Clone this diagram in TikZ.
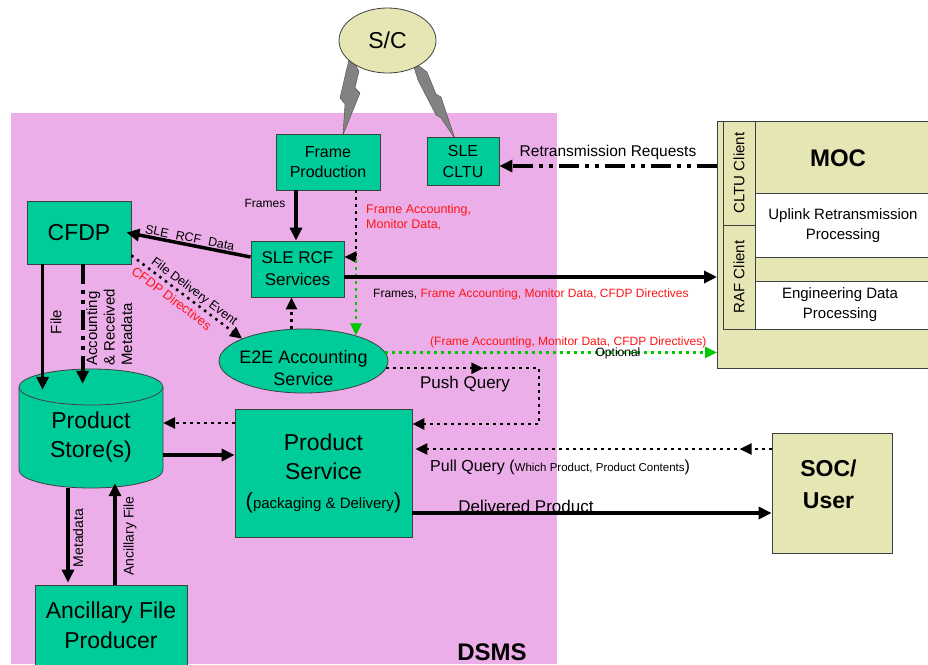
\documentclass[tikz,border=0pt]{standalone}
\usepackage{fontspec}
\setmainfont{Liberation Sans}
\usetikzlibrary{arrows.meta,shapes.geometric,decorations.markings,calc}
\definecolor{pinkbg}{RGB}{236,174,232}
\definecolor{tealbox}{RGB}{0,204,153}
\definecolor{khakibox}{RGB}{230,230,180}
\definecolor{grnline}{RGB}{0,200,0}
\definecolor{boltgray}{RGB}{130,130,130}
\definecolor{redtxt}{RGB}{255,20,20}
\newcommand{\fsz}[2]{\fontsize{#1}{#2}\selectfont}
\begin{document}
\begin{tikzpicture}[x=1pt,y=-1pt,
  tbox/.style={draw=black!75, line width=0.8pt, fill=tealbox, inner sep=0pt, align=center},
  kbox/.style={draw=black!75, line width=0.8pt, fill=khakibox, inner sep=0pt, align=center},
  cell/.style={draw=black!75, line width=0.8pt, inner sep=0pt, outer sep=0pt},
  arr/.style={line width=3.5pt, -{Triangle[length=13pt,width=12pt]}},
  dotarr/.style={line width=2.5pt, dash pattern=on 2.5pt off 4.5pt, -{Triangle[length=12pt,width=11pt]}},
  garr/.style={dotarr, draw=grnline},
  dasharr/.style={line width=4pt, dash pattern=on 20pt off 6pt on 4pt off 6pt on 4pt off 6pt, -{Triangle[length=13pt,width=12pt]}},
  midtip/.style={postaction={decorate}, decoration={markings, mark=at position #1 with {\arrow{Triangle[length=12pt,width=11pt]}}}},
  lbl/.style={inner sep=0pt, text=black},
  redlbl/.style={inner sep=0pt, text=redtxt},
  boltshape/.style={fill=boltgray, draw=black!70, line width=0.4pt},
]
\useasboundingbox (0,0) rectangle (928,664);
\clip (0,0) rectangle (928,664);
% DSMS area
\fill[pinkbg] (11,113) rectangle (557,664);
\node[lbl, font=\fsz{24}{28}\bfseries] (dsms) at (492,652) {DSMS};

% lightning bolts
\path[boltshape] (350,56) -- (359,71) -- (355,88) -- (360,93) -- (343,135) -- (345,104) -- (340,98) -- (346,72) -- cycle;
\path[boltshape] (412,61) -- (427,72) -- (436,94) -- (441,97) -- (455,139) -- (441,118) -- (436,115) -- (418,80) -- cycle;

% nodes
\node[ellipse, kbox, minimum width=97, minimum height=65, font=\fsz{23}{27}] (sc) at (387.5,40.5) {S/C};
\node[tbox, minimum width=104, minimum height=56, font=\fsz{16}{20}] (frame) at (328,162) {Frame\\Production};
\node[tbox, minimum width=72, minimum height=48, font=\fsz{16}{21}] (cltu) at (463,161) {SLE\\CLTU};
\node[tbox, minimum width=104, minimum height=63, font=\fsz{23}{27}] (cfdp) at (79,232.5) {CFDP};
\node[tbox, minimum width=93, minimum height=56, font=\fsz{17}{22}] (rcf) at (297.5,269) {SLE RCF\\Services};
\node[ellipse, tbox, minimum width=169, minimum height=64] (e2e) at (303.5,361) {};
\node[lbl, font=\fsz{18}{22}, align=center] (e2etext) at (303.5,368) {E2E Accounting\\Service};

% product store cylinder
\path[fill=tealbox, draw=black!75, line width=0.8pt] (19,387) -- (19,470) arc[start angle=180, end angle=0, x radius=72, y radius=18] -- (163,387);
\path[fill=tealbox, draw=black!75, line width=0.8pt] (91,387) ellipse[x radius=72, y radius=18];
\node[lbl, minimum width=144, minimum height=101, font=\fsz{23}{29}, align=center] (store) at (91,437.5) {Product\\Store(s)};

\node[tbox, minimum width=177, minimum height=128, font=\fsz{23}{29}] (ps) at (323.5,473) {Product\\Service\\{\fsz{22}{30}(}{\fsz{15}{30}packaging \& Delivery}{\fsz{22}{30})}};
\node[tbox, minimum width=152, minimum height=80, font=\fsz{23}{30}] (anc) at (111,625) {Ancillary File\\Producer};

% SOC
\node[kbox, minimum width=120, minimum height=120] (soc) at (832,493) {};
\node[lbl, font=\fsz{23}{32}\bfseries, align=center] (soctext) at (828.5,484) {SOC/\\User};

% MOC
\node[kbox, anchor=north west, minimum width=223, minimum height=247] (moc) at (717,121) {};
\node[cell, fill=khakibox, rotate=90, minimum width=104, minimum height=32, font=\fsz{15}{18}] (cltucl) at (739,173) {CLTU Client};
\node[cell, fill=khakibox, rotate=90, minimum width=104, minimum height=32, font=\fsz{15}{18}] (rafcl) at (739,277) {RAF Client};
\node[cell, fill=khakibox, anchor=north west, minimum width=185, minimum height=72] (mocc) at (755,121) {};
\node[cell, fill=white, anchor=north west, minimum width=185, minimum height=64] (uplc) at (755,193) {};
\node[cell, fill=khakibox, anchor=north west, minimum width=185, minimum height=24] (midc) at (755,257) {};
\node[cell, fill=white, anchor=north west, minimum width=185, minimum height=48] (engc) at (755,281) {};
\node[lbl, font=\fsz{24}{28}\bfseries] (moctext) at (838,158) {MOC};
\node[lbl, font=\fsz{15}{20}, align=center] (upltext) at (843,226) {Uplink Retransmission\\Processing};
\node[lbl, font=\fsz{15}{20}, align=center] (engtext) at (840,305) {Engineering Data\\Processing};

% connectors
\draw[arr] ($(frame.south)+(-32,0)$) -- ($(frame.south |- rcf.north)+(-32,0)$)
  node[pos=0.25, left=9pt, lbl, font=\fsz{12}{14}] {Frames};
\coordinate (gx) at ($(frame.south)+(28,0)$);
\draw[dotarr] (gx) |- ($(rcf.east)+(0,-12)$);
\node[redlbl, font=\fsz{12.5}{15}, align=left, anchor=west] (falbl) at (366,217.5) {Frame Accounting,\\Monitor Data,};
\draw[garr] ($(gx |- rcf.east)+(0,-9)$) -- (gx |- e2e.26);

\draw[arr] ($(rcf.west)+(0,-12)$) -- ($(cfdp.east)+(-5,0)$)
  node[midway, sloped, above=1pt, lbl, font=\fsz{12.5}{14}] {SLE\hspace{4pt} RCF\hspace{4pt} Data};

\draw[dotarr] ($(cfdp.south east)+(0,-9)$) -- (e2e.160)
  node[pos=0.52, sloped, above=1.5pt, lbl, font=\fsz{12.5}{15}] {File Delivery Event}
  node[pos=0.42, sloped, below=4pt, redlbl, font=\fsz{13}{15}] {CFDP Directives};

\draw[dotarr] ($(e2e.north)+(-12,0)$) -- ($(e2e.north |- rcf.south)+(-12,0)$);

\coordinate (r1) at ($(rcf.east)+(0,8)$);
\draw[arr] (r1) -- (r1 -| moc.west);
\node[lbl, font=\fsz{12}{14}, anchor=west] (frlbl) at (373,294) {Frames, \textcolor{redtxt}{Frame Accounting, Monitor Data, CFDP Directives}};

\draw[garr] (e2e.6) -- (e2e.6 -| moc.west);
\node[redlbl, font=\fsz{12}{14}, anchor=west] (optred) at (430,342) {(Frame Accounting, Monitor Data, CFDP Directives)};
\node[lbl, font=\fsz{12}{14}] (optlbl) at (618,353) {Optional};

\coordinate (m1) at ($(moc.west |- cltu.east)+(0,5)$);
\draw[dasharr] (m1) -- (m1 -| cltu.east);
\node[lbl, font=\fsz{15.5}{18}] (rtlbl) at (608,152) {Retransmission Requests};

\draw[arr] ($(cfdp.south west)+(16,0)$) -- ($(cfdp.south west |- store.north)+(16,3)$);
\node[lbl, rotate=90, font=\fsz{15}{18}] (filelbl) at (56,322) {File};
\draw[dasharr] ($(cfdp.south west)+(56,0)$) -- ($(cfdp.south west |- store.north)+(56,-3)$);
\node[lbl, rotate=90, font=\fsz{15}{17.5}, align=left, anchor=north west] (acclbl) at (86,366) {Accounting\\\& Received\\Metadata};

\coordinate (pqx) at (539,0);
\draw[dotarr, midtip=0.29] (e2e.-5) -- (e2e.-5 -| pqx) |- ($(ps.east)+(0,-49)$);
\node[lbl, font=\fsz{17}{20}] (pushlbl) at (465,384) {Push Query};

\draw[dotarr] ($(ps.west)+(0,-50)$) -- ($(ps.west -| store.east)+(0,-50)$);
\draw[arr] ($(ps.west -| store.east)+(0,-18)$) -- ($(ps.west)+(0,-18)$);

\coordinate (p1) at ($(soc.west)+(0,-44)$);
\draw[dotarr, midtip=0.09] (p1) -- ($(p1 -| ps.east)+(3,0)$);
\node[lbl, anchor=west] (pulllbl) at (430,467) {\fsz{16}{19}Pull Query (\fsz{11.5}{14}Which Product, Product Contents\fsz{16}{19})};

\coordinate (d1) at ($(ps.east)+(0,40)$);
\draw[arr] (d1) -- (d1 -| soc.west);
\node[lbl, font=\fsz{17}{20}, anchor=base] (dellbl) at (526,512) {Delivered Product};

\draw[arr] ($(store.south)+(-23,0)$) -- ($(store.south |- anc.north)+(-23,-2)$);
\node[lbl, rotate=90, font=\fsz{14}{17}] (metalbl) at (78,538) {Metadata};
\draw[arr] ($(store.south |- anc.north)+(24,0)$) -- ($(store.south)+(24,-5)$);
\node[lbl, rotate=90, font=\fsz{14}{17}] (anclbl) at (130,536) {Ancillary File};
\end{tikzpicture}
\end{document}
